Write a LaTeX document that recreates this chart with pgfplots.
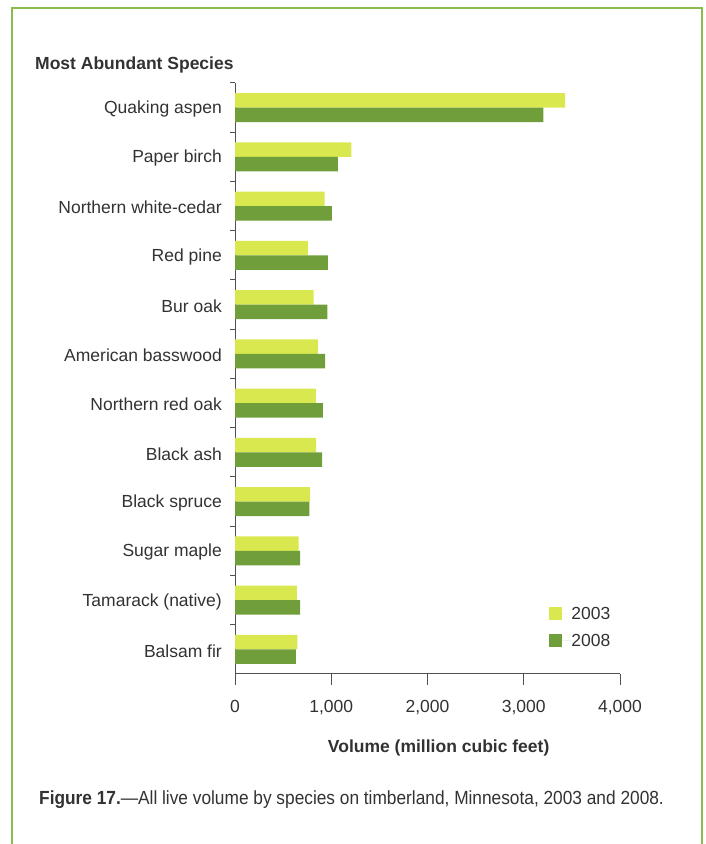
\documentclass[border=0pt]{standalone}
\usepackage{fontspec}
\setmainfont{Liberation Sans}
\newfontfamily\capfont[FakeStretch=0.91]{Liberation Sans}
\usepackage{pgfplots}
\usepackage{pgfplotstable}
\pgfplotsset{compat=1.18}
\definecolor{yg}{RGB}{216,232,78}
\definecolor{dg}{RGB}{112,158,58}
\definecolor{framec}{RGB}{140,188,74}
\definecolor{txt}{RGB}{50,50,50}
\definecolor{axc}{RGB}{80,80,80}

\pgfplotstableread{
y v2003 v2008
11 3430 3205
10 1208 1070
9 930 1006
8 756 965
7 816 961
6 861 937
5 840 913
4 844 906
3 781 774
2 660 677
1 642 677
0 649 632
}\datatab

\begin{document}
\begin{tikzpicture}
\path[use as bounding box] (0,0) rectangle (706pt,844pt);
\draw[framec, line width=2pt] (12pt,0) -- (12pt,835.5pt) -- (701.5pt,835.5pt) -- (701.5pt,0);
\node[anchor=base west, font=\fontsize{17.5}{20}\selectfont\bfseries, text=txt, inner sep=0pt] at (35pt,774pt) {Most Abundant Species};
\node[anchor=base west, text=txt, inner sep=0pt, font=\capfont\fontsize{19}{22}\selectfont] at (39pt,39pt) {\textbf{Figure 17.}—All live volume by species on timberland, Minnesota, 2003 and 2008.};
\begin{axis}[
  at={(235pt,170pt)}, anchor=south west,
  scale only axis, width=385pt, height=591pt,
  xmin=0, xmax=4000, ymin=-0.5, ymax=11.5,
  xbar, bar width=14.5pt,
  axis x line*=bottom, axis y line*=left,
  axis line style={-, draw=axc, line width=1pt},
  tick align=outside,
  xtick={0,1000,2000,3000,4000},
  major tick length=11pt,
  x tick style={draw=axc, line width=1pt},
  ytick={0,...,11},
  y tick style={draw=none},
  minor ytick={0.5,1.5,...,11.5},
  minor y tick style={draw=axc, line width=1pt},
  minor tick length=5pt,
  yticklabels={Balsam fir, Tamarack (native), Sugar maple, Black spruce, Black ash, Northern red oak, American basswood, Bur oak, Red pine, Northern white-cedar, Paper birch, Quaking aspen},
  yticklabel style={font=\fontsize{17.5}{20}\selectfont, text=txt, anchor=east, inner sep=0pt, xshift=-2pt, yshift=-1.5pt},
  xticklabel style={font=\fontsize{17.5}{20}\selectfont, text=txt, anchor=base, inner sep=0pt},
  xticklabel shift=27pt,
  /pgf/number format/assume math mode=true,
  /pgf/number format/.cd, 1000 sep={,}, /pgfplots/.cd,
  xlabel={\bfseries Volume (million cubic feet)},
  xlabel style={font=\fontsize{17.5}{20}\selectfont, text=txt, at={(axis description cs:0.529,0)}, anchor=base, yshift=-78pt, inner sep=0pt},
  legend style={draw=none, fill=none, at={(axis description cs:0.816,0.1135)}, anchor=north west, font=\fontsize{17.5}{20}\selectfont, text=txt, inner sep=0pt, row sep=13pt, nodes={inner sep=0pt}},
  legend cell align=left,
  legend image code/.code={\fill[#1] (0pt,-6.5pt) rectangle (13pt,6.5pt); \path (0pt,0pt) -- (22pt,0pt);},
]
\addplot[draw=none, fill=yg, bar shift=7.25pt] table[x=v2003, y=y] {\datatab};
\addplot[draw=none, fill=dg, bar shift=-7.25pt] table[x=v2008, y=y] {\datatab};
\legend{2003, 2008}
\end{axis}
\end{tikzpicture}
\end{document}
